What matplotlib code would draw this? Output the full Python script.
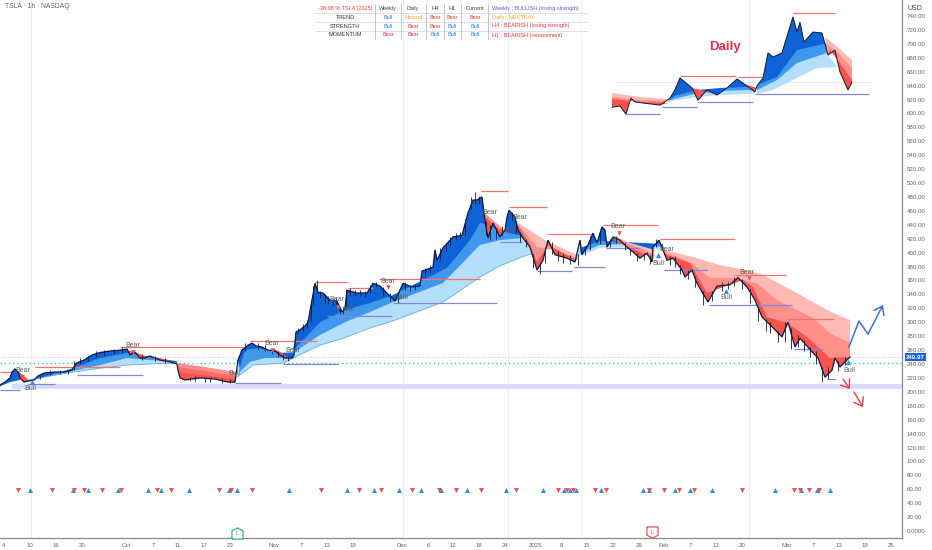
import numpy as np
import matplotlib
matplotlib.use("Agg")
import matplotlib.pyplot as plt
from matplotlib.lines import Line2D

plt.rcParams['font.family'] = ['Liberation Sans', 'DejaVu Sans']

# ===== price (x = bar position on the time scale, y = USD) =====
bar = [0,5,10,12,15,18,20,24,28,34,38,44,55,65,72,76,84,92,100,110,118,127,130,135,140,145,150,160,170,177,178,180,185,200,215,228,235,238,242,248,252,256,262,268,275,280,285,292,294,296,300,305,308,315,318,323,330,337,342,345,347,357,367,373,380,387,395,403,412,420,422,433,435,437,443,453,462,468,473,477,482,484,486,488,493,500,505,507,509,515,518,523,530,537,543,548,555,567,575,580,582,588,593,597,602,605,607,613,620,627,633,640,647,652,653,659,663,667,673,682,685,692,697,708,717,730,738,747,755,762,773,782,788,795,800,813,818,825,832,835,840,850]
close = [210,214,220,228.5,233,228.5,220,214,215.5,217,222.7,227,228.5,228.5,231,241,245.7,253,256.5,258.7,259.5,261.5,253,257,248.6,248.6,251.5,245.7,243,240,231,220,217,220,218.4,214,214,245.7,260,267,270,266,264.4,260,258.7,253,248.6,248.6,253,286,289,294.6,300,356,343,342,332,330.5,314.7,320,346,342,342,356,352,342,330.5,356,350.6,352,373.6,379,404,389,407,422.5,425,457,475.6,475.6,480,457,437,421,442.6,422.5,432.5,451,461,451,432.5,421,408,375,389,418,397,392,386.5,418,397,411,428,414,437,432.5,408,422.5,418,408,401,392,399.5,386.5,408,418,404,389,392,375,365,375,356,329,352,354,364,350.6,332,307.5,292,279,300,264.4,277,256,248.6,221,231,248.6,235.7,250]

# high / low wicks read at single bars
wick_x = [40,50,60,68,74,80,88,96,104,114,122,142,155,165,190,195,205,210,222,230,245,258,265,272,278,283,288,298,303,307,311,313,317,320,325,328,333,336,340,343,346,350,355,360,365,370,376,383,390,398,405,410,415,425,430,440,446,450,456,460,465,471,475,479,486,490,496,502,512,516,520,526,533,540,545,552,558,563,570,578,585,590,600,610,616,625,630,637,644,650,656,670,675,680,688,695,703,712,722,728,734,742,750,758,766,770,778,785,791,798,804,810,816,822,828,838,845]
wick_hi = [224,231,232,231,244,248,252,258,260,262,265,254,252,248,222,223,221,222,220,218,270,270,268,262,258,254,252,292,297,303,330,352,360,345,340,337,334,336,322,322,348,349,346,347,345,354,358,350,342,345,358,354,355,378,382,407,414,422,428,430,448,480,487,482,445,440,435,438,458,445,430,420,398,385,408,415,403,398,396,398,410,424,430,420,424,415,407,399,400,396,420,395,395,382,375,365,345,345,358,358,365,362,348,322,305,300,288,300,292,282,274,265,258,235,235,245,250]
wick_lo = [219,224,226,226,232,240,244,250,252,255,256,246,244,241,215,216,214,214,213,212,258,260,258,254,250,246,245,284,288,292,300,325,342,335,328,327,325,325,312,312,320,338,338,338,336,342,350,338,330,328,346,345,347,366,372,390,402,410,418,420,425,462,470,470,425,418,420,425,445,428,415,408,378,370,385,398,388,385,384,382,396,404,412,408,414,404,396,388,390,384,408,382,380,370,362,350,325,330,345,348,352,348,328,302,288,285,272,272,262,265,258,250,240,214,218,230,238]

# daily chart pasted top right, same price scale
inset_bar = [612,620,626,631,635,643,660,670,675,680,685,692,698,707,717,727,737,747,755,757,763,765,768,773,782,788,793,797,800,804,813,822,828,835,840,848,852]
inset_close = [609,610.7,599,622,616.5,615,612,622,634,651,645,636.6,619,634,626.5,636.6,649.5,639.5,631,639.5,651,665,687,681,687,715.6,738.6,717,731,702.7,717,715.6,684,691,659.6,633.7,645]

# ===== ribbon curves, (bars, prices) for slow / mid / fast =====
blue_a_x = [0,10,20]
blue_a = [208,214,217]
red_a_x = [18,23,28]
red_a = [230,224,218]

blue_b_slow_x = [28,67,100,127,150,177]
blue_b_slow = [217,227,234,238.5,240,241.5]
blue_b_mid_x = [33,67,100,127,150,177]
blue_b_mid = [217,228.5,238.5,248.6,245.7,243]
blue_b_fast_x = [43,73,100,128,150,177]
blue_b_fast = [221,234,248.6,256,250,244]
red_b_x = [127,135,145,160,177]
red_b = [260,257,251.5,248.6,241.4]

red_c_x = [178,205,236]
red_c_slow = [241.4,235.7,228.5]
red_c_mid = [235.7,230,222.7]
red_c_fast = [228.5,224,218.4]

blue_d_slow_x = [237,253,283,296]
blue_d_slow = [221,238.5,241.4,250]
blue_d_mid_x = [240,250,265,283,296]
blue_d_mid = [228.5,243,248.6,248.6,253]
blue_d_fast_x = [240,245,258,280,296]
blue_d_fast = [235.7,260,263,256,257]
red_d_x = [272,282,290]
red_d = [263,256,247]

blue_e_slow_x = [293,320,343,370,395,443,480,500,522,537]
blue_e_slow = [248.6,267,277,291.7,303,329,365,381,394,400.6]
blue_e_mid_x = [293,320,345,370,393,443,480,500,522,537]
blue_e_mid = [255.8,281.7,300,314.7,329,356.4,411,418,421,406.7]
blue_e_fast_x = [293,305,320,345,370,393,447,470,480,487,505,522,528]
blue_e_fast = [260,277,300,317.6,327.6,339,378,418,442.6,440,429.7,424,418]

red_e_x = [484,495,507]
red_e_slow = [458,444,429.7]
red_e_mid = [452.7,438,428]

red_f_slow_x = [517,545,577]
red_f_slow = [444,418,396.6]
red_f_mid_x = [517,537,552,577]
red_f_mid = [442.6,408,404,392]
red_f_fast_x = [517,530,537,548,577]
red_f_fast = [441,411,386.6,411,389]

blue_g_slow_x = [575,600,627,663]
blue_g_slow = [392,406.7,408,404]
blue_g_x = [580,600,627,663]
blue_g_mid = [399.5,411,412.4,408]
blue_g_fast = [406.7,416.7,415,412.4]

red_g_slow_x = [613,630,655]
red_g_slow = [425,414,403.8]
red_g_mid_x = [613,640,655]
red_g_mid = [421,406.7,396.6]
red_g_fast_x = [615,640,652]
red_g_fast = [416.7,401,392]

red_h_slow_x = [665,697,720,747,763,797,827,850]
red_h_slow = [404,392,382,375,368,342,317.6,303]
red_h_mid_x = [667,690,710,735,757,777,813,830,850]
red_h_mid = [399.5,386.6,363.6,363.6,356,332,306,284.5,270]
red_h_fast_x = [667,690,707,743,753,767,787,807,830,847]
red_h_fast = [396.6,385,342,360.7,350.6,307.5,299,279,248.6,250]

# daily inset ribbons
i_red_a_x = [612,640,668]
i_red_a_slow = [629.4,623.7,620.8]
i_red_a_mid = [623.7,619.3,618]
i_red_a_fast = [620.8,616.5,615]
i_blue_b_x = [668,677,698,720,747,755]
i_blue_b_slow = [616.5,619.3,623.7,626.5,628,628]
i_blue_b_mid = [618,622,629.4,632.3,633.7,632.3]
i_blue_b_fast = [619.3,626.5,633.7,636.6,638,636.6]
i_red_c_x = [692,700,712]
i_red_c = [636.6,634,628]
i_red_d_x = [745,757]
i_red_d = [642,636.6]
i_blue_e_slow_x = [757,773,797,817,837]
i_blue_e_slow = [628,633.7,651,665.3,666.8]
i_blue_e_x = [757,777,797,827]
i_blue_e_mid = [633.7,648,672.5,687]
i_blue_e_fast = [641,652.4,691,701]
i_red_f_slow_x = [825,835,852]
i_red_f_slow = [709.9,698.4,676.8]
i_red_f_mid_x = [828,840,852]
i_red_f_mid = [698.4,684,665.3]
i_red_f_fast_x = [830,845,852]
i_red_f_fast = [691,662.5,648]

# ===== support / resistance stubs =====
bear_from = [0,35,120,250,315,348,379,481,509,548,603,660,735,787,680,738,793]
bear_to = [12,120,243,317,347,373,480,508,547,592,658,735,786,834,736,763,835]
bear_level = [228.5,235.7,264.4,273,357.8,349,362,488.6,465.6,426.8,439.7,419.6,367.9,304.6,653.8,652.4,744.4]
bull_from = [0,28,77,235,283,327,393,500,537,574,606,664,709,794,827,626,662,698,755]
bull_to = [20,55,143,281,338,392,497,522,572,605,640,707,792,823,836,660,697,753,869]
bull_level = [202.6,211.2,224.2,212.7,240,309,327.6,415.3,373.6,379.4,406.7,375,324.8,261.5,218.4,599.2,609.3,616.5,628]

# ===== Bear / Bull tags =====
tag_text = ["Bear","Bear","Bear","Bull","Bear","Bull","Bear","Bull","Bear","Bull","Bear","Bear","Bull","Bear","Bear","Bull","Bull","Bear","Bull"]
tag_x = [23,133,272,234,293,30,337,348,388,402,490,520,510,618,667,658,726,747,849]
tag_price = [230,267,270,227,258.7,205.5,332,319,359,336,458,451,432.5,437,405,385,335,371,231]
sell_x = [22,133,272,388,338,619,749]
sell_price = [221,257,260,350.6,322,428,363.6]
buy_x = [32,658,726,848]
buy_price = [214,396.6,345,243]

# ===== signal row near 60 USD =====
signal_level = 59
signal_down = [18,52,74,84,102,121,157,171,219,231,252,321,359,381,412,439,456,481,516,558,567,573,595,606,649,664,679,694,742,794,800,809,819]
signal_up = [30,73,88,118,148,161,189,229,237,289,347,374,399,421,441,467,506,543,564,570,576,601,643,649,675,690,712,775,801,817,830]

# ===== projections =====
zig_x = [849,859,868]
zig_price = [264.4,301.8,283]
zig_end = (883,324.8)
drop_a = ((843,218.4),(850,204))
drop_b = ((854,199.7),(863,178))

last_price = 249.97
cyan_level = 241
support_low, support_high = 204, 211

# ===== axes ticks =====
price_ticks = list(range(0, 741, 20))
time_pos = [4,30,56,82,127,153,178,204,230,274,301,327,353,402,428,453,479,505,535,561,587,613,639,664,690,716,742,787,813,839,865,891]
time_labels = ["4","10","16","20","Oct","7","11","17","23","Nov","7","13","19","Dec","6","12","18","24","2025","8","15","22","29","Feb","7","13","20","Mar","7","13","19","25"]
day_lines = [31,403,508,581,749]
day_line_colors = ['#e6eef7','#e9eff6','#eef3f8','#f0f4f9','#fbe9ea']

# ===== top table =====
table_rows = ["TREND","STRENGTH","MOMENTUM"]
table_head = ["Weekly","Daily","H4","H1","Current"]
table_cells = [["Bull","Neutral","Bear","Bear","Bear"],
               ["Bull","Bear","Bear","Bull","Bull"],
               ["Bear","Bear","Bull","Bull","Bull"]]
table_notes = ["Weekly : BULLISH (losing strength)","Daily : NEUTRAL","H4 : BEARISH (losing strength)","H1 : BEARISH (retracement)"]

# ===== colours =====
BLUES = ['#b4dffa','#3f98ec','#0f62d6']
REDS = ['#ffb9b4','#ff8f89','#f5544d']
CELL = {"Bull":'#2f7fe0',"Bear":'#ee3a3a',"Neutral":'#f5a623'}
NOTE = ['#5b5fe0','#f5a623','#ee3a3a','#ee3a3a']
W, H = 932, 550

fig = plt.figure(figsize=(W/100, H/100), dpi=100, facecolor='white')
ax = fig.add_axes([0, 12/H, 902/W, 538/H])
ax.set_xlim(0, 902)
ax.set_ylim(-10, 763)

bar = np.array(bar, float)
close = np.array(close, float)
inset_bar = np.array(inset_bar, float)
inset_close = np.array(inset_close, float)


def ribbon(xs, ys, x0, x1, bands, colors):
    # each band is a polygon from the price line back along one curve
    m = (xs >= x0) & (xs <= x1)
    for (bx, by), c in zip(bands, colors):
        ax.fill(np.r_[xs[m], bx[::-1]], np.r_[ys[m], by[::-1]], color=c, lw=0, zorder=3)


def arr(*pairs):
    return [(np.array(a, float), np.array(b, float)) for a, b in pairs]


for x, c in zip(day_lines, day_line_colors):
    ax.axvline(x, color=c, lw=0.8, zorder=1)

# support band and the two level lines
ax.fill_between([12, 902], support_low, support_high, color='#d9dcf8', lw=0, zorder=1)
ax.axhline(last_price, color='#b9b6e0', lw=0.6, ls=(0, (1, 2)), zorder=2)
ax.axhline(cyan_level, color='#20c8d8', lw=1.0, ls=(0, (1, 2)), zorder=2)
ax.hlines(645.2, 616, 872, color='#e6e6e6', lw=0.6, zorder=1)

# main ribbons
ribbon(bar, close, 0, 20, arr((blue_a_x, blue_a)), BLUES[2:])
ribbon(bar, close, 18, 28, arr((red_a_x, red_a)), REDS[2:])
ribbon(bar, close, 28, 177, arr((blue_b_slow_x, blue_b_slow), (blue_b_mid_x, blue_b_mid), (blue_b_fast_x, blue_b_fast)), BLUES)
ribbon(bar, close, 127, 177, arr((red_b_x, red_b)), REDS[2:])
ribbon(bar, close, 178, 236, arr((red_c_x, red_c_slow), (red_c_x, red_c_mid), (red_c_x, red_c_fast)), ['#ff8f89', '#fb6c65', '#f5544d'])
ribbon(bar, close, 236, 296, arr((blue_d_slow_x, blue_d_slow), (blue_d_mid_x, blue_d_mid), (blue_d_fast_x, blue_d_fast)), BLUES)
ribbon(bar, close, 272, 290, arr((red_d_x, red_d)), REDS[2:])
ribbon(bar, close, 296, 522, arr((blue_e_slow_x, blue_e_slow), (blue_e_mid_x, blue_e_mid), (blue_e_fast_x, blue_e_fast)), BLUES)
ribbon(bar, close, 484, 505, arr((red_e_x, red_e_slow), (red_e_x, red_e_mid)), REDS[1:])
ribbon(bar, close, 518, 580, arr((red_f_slow_x, red_f_slow), (red_f_mid_x, red_f_mid), (red_f_fast_x, red_f_fast)), REDS)
ribbon(bar, close, 580, 663, arr((blue_g_slow_x, blue_g_slow), (blue_g_x, blue_g_mid), (blue_g_x, blue_g_fast)), BLUES)
ribbon(bar, close, 613, 652, arr((red_g_slow_x, red_g_slow), (red_g_mid_x, red_g_mid), (red_g_fast_x, red_g_fast)), REDS)
ribbon(bar, close, 663, 850, arr((red_h_slow_x, red_h_slow), (red_h_mid_x, red_h_mid), (red_h_fast_x, red_h_fast)), REDS)

# thin line under the slow curve
ax.plot(blue_e_slow_x, blue_e_slow, color='#62aae8', lw=0.6, zorder=3)
ax.plot(blue_d_slow_x, blue_d_slow, color='#62aae8', lw=0.6, zorder=3)
ax.plot(blue_b_slow_x, blue_b_slow, color='#62aae8', lw=0.6, zorder=3)

# daily inset
ribbon(inset_bar, inset_close, 612, 668, arr((i_red_a_x, i_red_a_slow), (i_red_a_x, i_red_a_mid), (i_red_a_x, i_red_a_fast)), REDS)
ribbon(inset_bar, inset_close, 668, 755, arr((i_blue_b_x, i_blue_b_slow), (i_blue_b_x, i_blue_b_mid), (i_blue_b_x, i_blue_b_fast)), BLUES)
ribbon(inset_bar, inset_close, 692, 712, arr((i_red_c_x, i_red_c)), REDS[2:])
ribbon(inset_bar, inset_close, 745, 757, arr((i_red_d_x, i_red_d)), REDS[2:])
ribbon(inset_bar, inset_close, 757, 828, arr((i_blue_e_slow_x, i_blue_e_slow), (i_blue_e_x, i_blue_e_mid), (i_blue_e_x, i_blue_e_fast)), BLUES)
ribbon(inset_bar, inset_close, 828, 852, arr((i_red_f_slow_x, i_red_f_slow), (i_red_f_mid_x, i_red_f_mid), (i_red_f_fast_x, i_red_f_fast)), REDS)

# price lines and wicks
ax.plot(bar, close, color='#101a3c', lw=0.9, zorder=5, solid_joinstyle='miter')
ax.vlines(wick_x, wick_lo, wick_hi, color='#101a3c', lw=0.6, zorder=5)
ax.plot(inset_bar, inset_close, color='#101a3c', lw=0.7, zorder=5)

# stubs
ax.hlines(bear_level, bear_from, bear_to, color='#f0736e', lw=0.9, zorder=4)
ax.hlines(bull_level, bull_from, bull_to, color='#7f88dd', lw=0.9, zorder=4)

# tags
for s, x, p in zip(tag_text, tag_x, tag_price):
    ax.text(x, p, s, fontsize=5, color='#5f5f5f', ha='center', va='center', zorder=6)
ax.scatter(sell_x, sell_price, marker='v', s=11, color='#ef5350', lw=0, zorder=6)
ax.scatter(buy_x, buy_price, marker='^', s=14, color='#2f8de4', lw=0, zorder=6)

# signal row
ax.scatter(signal_up, [signal_level]*len(signal_up), marker='^', s=13, color='#2f8de4', lw=0, zorder=4)
ax.scatter(signal_down, [signal_level]*len(signal_down), marker='v', s=13, color='#ef5350', lw=0, zorder=4)

# drawn projections
ax.plot(zig_x, zig_price, color='#3f6fd8', lw=1.1, zorder=6)
ax.annotate('', xy=zig_end, xytext=(zig_x[-1], zig_price[-1]),
            arrowprops=dict(arrowstyle='->,head_length=0.55,head_width=0.4', color='#3f6fd8', lw=1.1, shrinkA=0, shrinkB=0), zorder=6)
for a, b in (drop_a, drop_b):
    ax.annotate('', xy=b, xytext=a,
                arrowprops=dict(arrowstyle='->,head_length=0.55,head_width=0.4', color='#e2404f', lw=1.0, shrinkA=0, shrinkB=0), zorder=6)

# earnings badges
house_up = [(-1, -1), (1, -1), (1, 0.5), (0, 1), (-1, 0.5), (-1, -1)]
house_down = [(-1, 1), (1, 1), (1, -0.5), (0, -1), (-1, -0.5), (-1, 1)]
ax.plot([237], [-3], marker=house_up, ms=8, mfc='white', mec='#2a9d7f', mew=0.8, zorder=6, clip_on=False)
ax.text(237, -3, "L", fontsize=4, color='#2a9d7f', ha='center', va='center', zorder=7)
ax.plot([652], [-2], marker=house_down, ms=8, mfc='white', mec='#e2404f', mew=0.8, zorder=6, clip_on=False)
ax.text(652, -2, "L", fontsize=4, color='#e2404f', ha='center', va='center', zorder=7)

ax.text(725, 695, "Daily", fontsize=9.5, fontweight='bold', color='#e0304a', ha='center', va='center', zorder=6)

# axes
for s in ('top', 'left'):
    ax.spines[s].set_visible(False)
for s in ('right', 'bottom'):
    ax.spines[s].set_color('#8a8a8a')
    ax.spines[s].set_linewidth(0.9)
ax.yaxis.tick_right()
ax.set_yticks(price_ticks)
ax.set_yticklabels(["0.0000" if t == 0 else f"{t:.2f}" for t in price_ticks])
ax.set_xticks(time_pos)
ax.set_xticklabels(time_labels)
ax.tick_params(axis='both', length=0, labelsize=4.4, labelcolor='#666666', pad=3.5)

# price tag and currency
ax.text(1.0045, last_price, f"{last_price:.2f}", transform=ax.get_yaxis_transform(), fontsize=4.4, fontweight='bold',
        color='white', va='center', ha='left', clip_on=False, zorder=8,
        bbox=dict(boxstyle='square,pad=0.25', fc='#1e62e0', ec='none'))
fig.text(915/W, 1 - 8/H, "USD", fontsize=5, color='#444444', ha='center', va='center')
fig.text(5/W, 1 - 7/H, "TSLA · 1h · NASDAQ", fontsize=4.9, color='#666666', ha='left', va='center')

# top table drawn in figure pixels
row_y = [8.5, 17.5, 26, 35]
col_x = [388, 413, 435, 452, 475]
for y in (13, 22, 31):
    fig.add_artist(Line2D([315/W, 588/W], [1 - y/H, 1 - y/H], color='#cfd3e6', lw=0.5))
for x in (375, 401, 426, 444, 461, 488):
    fig.add_artist(Line2D([x/W, x/W], [1 - 4/H, 1 - 39/H], color='#aab0c8', lw=0.5))
fig.text(345/W, 1 - row_y[0]/H, "-38.08 % TSLA (2025)", fontsize=4, color='#ee3a3a', ha='center', va='center')
for x, s in zip(col_x, table_head):
    fig.text(x/W, 1 - row_y[0]/H, s, fontsize=4, color='#444444', ha='center', va='center')
for y, name, cells in zip(row_y[1:], table_rows, table_cells):
    fig.text(345/W, 1 - y/H, name, fontsize=4, color='#333333', ha='center', va='center')
    for x, s in zip(col_x, cells):
        fig.text(x/W, 1 - y/H, s, fontsize=4, color=CELL[s], ha='center', va='center')
for y, s, c in zip(row_y, table_notes, NOTE):
    fig.text(492/W, 1 - y/H, s, fontsize=4, color=c, ha='left', va='center')

fig.savefig("out.png", dpi=100)
